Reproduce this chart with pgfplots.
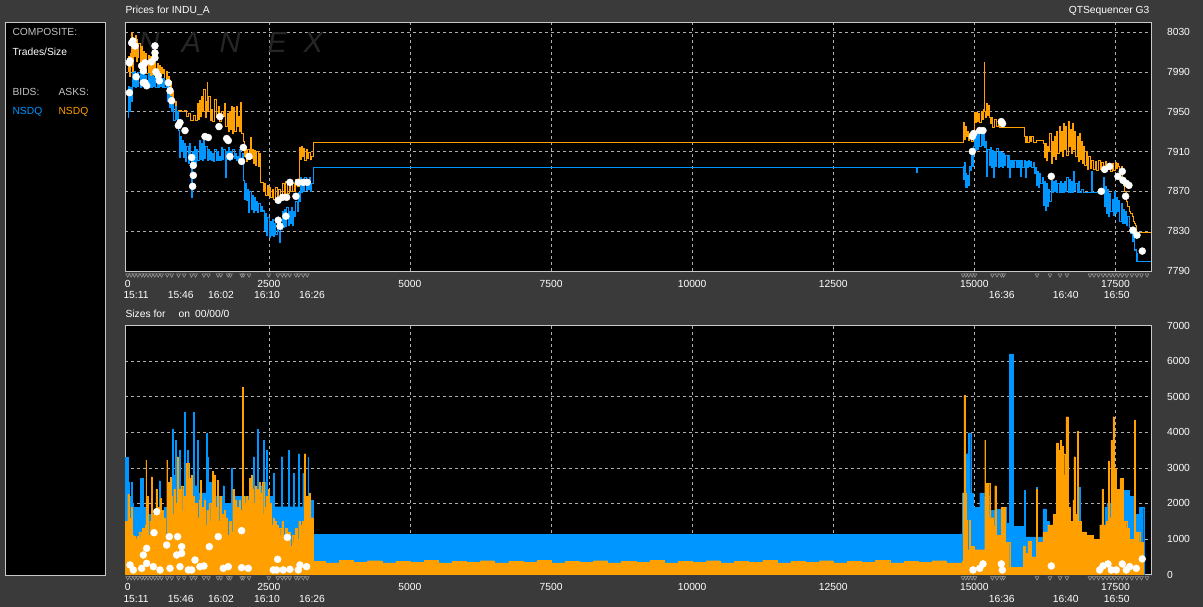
\documentclass[border=0pt]{standalone}
\usepackage{pgfplots}
\pgfplotsset{compat=1.18}
\usepackage{fontspec}
\setmainfont{Liberation Sans}
\definecolor{bgc}{RGB}{58,58,58}
\definecolor{bidc}{RGB}{0,150,255}
\definecolor{askc}{RGB}{255,160,0}
\definecolor{framec}{RGB}{200,200,200}
\definecolor{gridc}{RGB}{175,175,175}
\definecolor{lblc}{RGB}{195,195,195}
\definecolor{wmc}{RGB}{38,38,38}
\definecolor{vmc}{RGB}{150,150,150}
\newcommand{\sm}{\fontsize{10.3}{12}\selectfont}
\tikzset{tl/.style={font=\sm, text=white, yshift=-24pt}}
\pgfplotsset{
  nxbase/.style={
    anchor=south west, scale only axis, width=1026pt, height=249pt,
    xmin=-48, xmax=18130,
    xtick={2500,5000,...,17500},
    extra x ticks={0}, extra x tick style={grid=none},
    axis background/.style={fill=black},
    axis line style={draw=framec, line width=0.8pt},
    grid=major,
    major grid style={draw=gridc, dash pattern=on 3pt off 3pt, line width=0.5pt},
    major tick length=0pt,
    tick style={draw=none},
    yticklabel pos=right,
    ticklabel style={font=\sm, text=white},
    yticklabel style={anchor=west, xshift=12.5pt},
    xticklabel style={yshift=-5.5pt},
    /pgf/number format/assume math mode=true,
    /pgf/number format/1000 sep={},
    scaled ticks=false,
    clip=false,
  },
  vm/.style={only marks, mark=triangle, mark size=2.2pt, mark options={rotate=180, draw=vmc, line width=0.6pt}},
  dots/.style={only marks, mark=*, mark size=3.5pt, mark options={fill=white, draw=white}},
}
\begin{document}
\begin{tikzpicture}[x=1pt,y=1pt]
\fill[bgc] (0,0) rectangle (1203,607);
\draw[framec, fill=black, line width=0.8pt] (5,585) rectangle (105,32);
\node[anchor=west, font=\sm, text=lblc] at (9,575) {COMPOSITE:};
\node[anchor=west, font=\sm, text=white] at (9,555) {Trades/Size};
\node[anchor=west, font=\sm, text=lblc] at (9,515) {BIDS:};
\node[anchor=west, font=\sm, text=lblc] at (55,515) {ASKS:};
\node[anchor=west, font=\sm, text=bidc] at (9,495) {NSDQ};
\node[anchor=west, font=\sm, text=askc] at (55,495) {NSDQ};
\node[anchor=west, font=\sm, text=white] at (122,596) {Prices for INDU\_A};
\node[anchor=east, font=\sm, text=white] at (1153,596) {QTSequencer G3};
\node[anchor=west, font=\sm, text=white] at (122,293) {Sizes for\hspace{13pt}on\hspace{5pt}00/00/0};

% ---------------- prices ----------------
\begin{axis}[nxbase, at={(125pt,336pt)}, ymin=7790, ymax=8040,
  ytick={7790,7830,...,8030}]
\node[font=\fontsize{29}{29}\selectfont\itshape, text=wmc] at (axis cs:380,8019) {N};
\node[font=\fontsize{29}{29}\selectfont\itshape, text=wmc] at (axis cs:1125,8019) {A};
\node[font=\fontsize{29}{29}\selectfont\itshape, text=wmc] at (axis cs:1816,8019) {N};
\node[font=\fontsize{29}{29}\selectfont\itshape, text=wmc] at (axis cs:2649,8019) {E};
\node[font=\fontsize{29}{29}\selectfont\itshape, text=wmc] at (axis cs:3287,8019) {X};
% ask
\addplot[const plot, draw=askc, line width=1pt] coordinates {
(0,7990)(15,8005)(30,7985)(45,8008)(60,7995)(75,8029)(90,7990)(105,8020)(120,8005)(135,8026)(150,8000)(165,8022)(180,8004)(200,8018)(220,7998)(240,8015)(260,7990)(280,8010)(300,7992)(320,8008)(340,7988)(360,8006)(380,7985)(400,8005)(420,7984)(440,8002)(460,7986)(480,8000)(500,7985)(520,7998)(540,7984)(560,7996)(580,7986)(600,7994)(620,7988)(640,7992)(660,7978)(680,7990)(700,7975)(720,7985)(740,7960)(760,7980)(780,7955)(800,7970)(820,7952)(840,7960)(860,7950)(900,7951)(960,7950)(1000,7951)(1040,7945)(1080,7948)(1120,7941)(1160,7946)(1200,7941)(1230,7958)(1250,7942)(1270,7961)(1290,7945)(1310,7965)(1330,7950)(1350,7972)(1370,7944)(1390,7960)(1405,7979)(1420,7950)(1440,7965)(1460,7941)(1480,7952)(1510,7940)(1540,7962)(1570,7944)(1600,7955)(1630,7940)(1660,7950)(1690,7945)(1720,7958)(1740,7935)(1760,7948)(1780,7930)(1800,7950)(1820,7932)(1840,7955)(1860,7928)(1880,7954)(1900,7930)(1920,7955)(1940,7935)(1960,7945)(1980,7930)(2000,7959)(2020,7928)(2050,7920)(2070,7905)(2090,7915)(2110,7900)(2130,7912)(2150,7902)(2170,7924)(2190,7903)(2210,7912)(2230,7898)(2250,7911)(2270,7896)(2290,7910)(2310,7895)(2330,7908)(2350,7879)(2380,7879)(2410,7870)(2430,7878)(2450,7866)(2470,7876)(2490,7866)(2510,7874)(2530,7864)(2560,7872)(2590,7862)(2620,7874)(2650,7865)(2680,7872)(2710,7866)(2740,7878)(2770,7866)(2800,7880)(2830,7868)(2860,7876)(2890,7870)(2920,7878)(2950,7870)(2980,7882)(3010,7875)(3040,7914)(3060,7902)(3080,7915)(3100,7905)(3120,7913)(3140,7901)(3160,7912)(3180,7903)(3200,7909)(3230,7902)(3260,7905)(3287,7919)
(14800,7920)(14810,7939)(14825,7922)(14840,7935)(14855,7925)(14870,7930)(14890,7921)(14920,7928)(14950,7920)(14980,7930)(15005,7949)(15020,7939)(15040,7949)(15060,7940)(15080,7948)(15100,7939)(15120,7950)(15140,7942)(15160,7952)(15175,7999)(15185,7950)(15200,7944)(15215,7958)(15230,7946)(15250,7956)(15270,7944)(15290,7938)(15310,7944)(15330,7934)(15360,7942)(15390,7935)(15420,7940)(15450,7934)(15500,7934)(15600,7934)(15700,7934)(15890,7925)(15910,7919)(15930,7925)(15950,7919)(15970,7925)(15990,7920)(16010,7925)(16040,7919)(16100,7921)(16200,7921)(16220,7918)(16240,7904)(16260,7918)(16280,7901)(16300,7915)(16320,7910)(16340,7928)(16360,7898)(16380,7920)(16400,7905)(16420,7925)(16440,7902)(16460,7930)(16480,7908)(16500,7935)(16520,7910)(16540,7930)(16560,7905)(16580,7938)(16600,7912)(16620,7935)(16640,7906)(16660,7940)(16680,7915)(16700,7932)(16720,7908)(16740,7938)(16760,7912)(16780,7930)(16800,7905)(16820,7925)(16840,7900)(16860,7928)(16880,7902)(16900,7920)(16920,7898)(16940,7915)(16960,7896)(16980,7910)(17000,7892)(17020,7905)(17050,7893)(17080,7901)(17110,7892)(17140,7900)(17170,7891)(17200,7901)(17230,7892)(17260,7899)(17290,7891)(17320,7900)(17350,7893)(17380,7898)(17410,7890)(17440,7898)(17470,7891)(17500,7899)(17520,7893)(17540,7898)(17560,7895)(17580,7890)(17600,7895)(17630,7880)(17660,7870)(17690,7860)(17710,7855)(17740,7850)(17770,7848)(17800,7845)(17820,7840)(17840,7838)(17860,7836)(17880,7829)(18130,7829)
};
% bid
\addplot[const plot, draw=bidc, line width=1pt] coordinates {
(0,7944)(15,7975)(30,7950)(45,7974)(60,7960)(80,7989)(100,7975)(120,7990)(140,7974)(160,7988)(180,7975)(200,7989)(220,7974)(240,7990)(260,7975)(280,7988)(300,7974)(320,7986)(340,7976)(360,7988)(380,7974)(400,7985)(420,7974)(440,7986)(460,7975)(480,7984)(500,7974)(520,7985)(540,7974)(560,7984)(580,7975)(600,7983)(620,7974)(640,7983)(660,7974)(680,7980)(700,7960)(720,7975)(740,7954)(760,7965)(780,7950)(800,7958)(820,7941)(840,7955)(860,7942)(880,7950)(900,7931)(915,7904)(930,7925)(950,7910)(970,7921)(990,7904)(1010,7918)(1030,7900)(1050,7915)(1070,7898)(1090,7918)(1110,7902)(1130,7864)(1145,7910)(1165,7900)(1185,7915)(1205,7898)(1225,7912)(1245,7901)(1265,7921)(1285,7902)(1305,7918)(1325,7901)(1345,7921)(1365,7903)(1385,7915)(1405,7901)(1425,7912)(1445,7902)(1465,7910)(1485,7901)(1505,7908)(1525,7900)(1545,7912)(1565,7901)(1585,7910)(1605,7901)(1625,7905)(1645,7901)(1665,7914)(1685,7902)(1705,7912)(1725,7884)(1745,7910)(1765,7902)(1785,7914)(1805,7901)(1825,7910)(1845,7902)(1865,7912)(1885,7903)(1905,7908)(1925,7901)(1945,7905)(1965,7901)(1985,7912)(2005,7902)(2025,7908)(2045,7881)(2065,7862)(2085,7878)(2105,7861)(2125,7872)(2145,7849)(2165,7870)(2185,7852)(2205,7866)(2225,7849)(2245,7864)(2265,7851)(2285,7860)(2305,7849)(2325,7858)(2345,7850)(2365,7855)(2385,7850)(2405,7851)(2425,7831)(2445,7848)(2465,7826)(2485,7844)(2505,7824)(2525,7840)(2545,7826)(2565,7842)(2585,7825)(2605,7838)(2625,7827)(2645,7836)(2665,7830)(2685,7819)(2700,7838)(2720,7832)(2740,7850)(2760,7834)(2780,7852)(2800,7835)(2820,7854)(2840,7836)(2860,7850)(2880,7838)(2900,7854)(2920,7836)(2940,7850)(2960,7845)(2980,7860)(3000,7850)(3020,7869)(3040,7860)(3060,7884)(3080,7869)(3100,7882)(3120,7870)(3140,7884)(3160,7871)(3180,7880)(3200,7872)(3220,7884)(3240,7870)(3260,7878)(3287,7894)(13960,7894)(13970,7889)(13985,7894)
(14800,7895)(14810,7882)(14822,7899)(14835,7874)(14850,7888)(14865,7874)(14880,7886)(14900,7876)(14920,7895)(14935,7891)(14950,7911)(14970,7895)(14990,7915)(15005,7929)(15020,7911)(15040,7928)(15060,7912)(15080,7929)(15100,7915)(15120,7931)(15140,7916)(15160,7929)(15180,7914)(15200,7920)(15220,7885)(15240,7912)(15260,7896)(15280,7914)(15300,7894)(15320,7911)(15340,7884)(15360,7910)(15380,7895)(15400,7913)(15420,7894)(15440,7910)(15460,7895)(15480,7909)(15500,7894)(15520,7908)(15540,7896)(15560,7906)(15580,7894)(15600,7906)(15620,7884)(15640,7901)(15660,7894)(15680,7901)(15700,7894)(15720,7901)(15740,7894)(15760,7901)(15780,7894)(15800,7901)(15820,7885)(15840,7901)(15860,7894)(15880,7901)(15900,7884)(15920,7900)(15940,7894)(15960,7901)(15980,7895)(16000,7900)(16020,7894)(16040,7899)(16060,7888)(16080,7894)(16100,7876)(16120,7890)(16140,7874)(16160,7888)(16180,7878)(16200,7884)(16220,7856)(16240,7880)(16260,7851)(16280,7878)(16300,7855)(16320,7872)(16340,7860)(16360,7881)(16380,7869)(16400,7880)(16420,7870)(16440,7881)(16460,7869)(16480,7878)(16500,7869)(16520,7880)(16540,7869)(16560,7878)(16580,7869)(16600,7880)(16620,7870)(16640,7884)(16660,7869)(16680,7882)(16700,7869)(16720,7880)(16740,7869)(16760,7890)(16780,7871)(16800,7878)(16820,7869)(16840,7880)(16860,7869)(16900,7872)(16940,7869)(17040,7869)(17080,7890)(17100,7869)(17260,7869)(17280,7884)(17300,7855)(17320,7875)(17340,7848)(17360,7872)(17380,7845)(17400,7868)(17420,7850)(17440,7862)(17460,7846)(17480,7870)(17500,7848)(17520,7864)(17540,7850)(17560,7861)(17580,7840)(17600,7858)(17620,7838)(17640,7852)(17660,7838)(17680,7850)(17700,7836)(17720,7845)(17740,7834)(17760,7828)(17780,7834)(17800,7820)(17820,7830)(17840,7811)(17860,7812)(17870,7800)(17880,7808)(17890,7800)(18130,7800)
};
% trades
\addplot[dots] coordinates {
(70,8019)(129,8016)(41,8001)(30,7969)(30,7999)(247,7996)(277,7991)(306,7999)(483,8016)(483,8009)(483,8004)(277,7979)(336,7976)(542,7986)(719,7979)(749,7971)(778,7961)(926,7939)(897,7936)(1015,7931)(1369,7925)(1428,7924)(1634,7945)(1617,7935)(1753,7923)(1782,7921)(1133,7904)(1162,7896)(1162,7886)(1150,7875)(1812,7905)(2018,7900)(2048,7914)(2148,7905)(2667,7861)(2744,7864)(2815,7864)(2874,7879)(2980,7865)(3022,7879)(3110,7879)(3181,7879)(2803,7845)(2667,7841)(2697,7835)(94,8021)(271,7996)(306,7979)(150,7985)(420,8000)(500,7990)(560,7981)
(14964,7925)(14988,7928)(14964,7910)(15094,7931)(15153,7931)(15478,7940)(15500,7938)(16363,7885)(17249,7870)(17308,7892)(17397,7895)(17544,7885)(17621,7890)(17633,7881)(17692,7878)(17739,7876)(17680,7865)(17810,7831)(17881,7826)(17975,7810)
};
\addplot[vm] coordinates {
(0,7786)(60,7786)(120,7786)(180,7786)(250,7786)(300,7786)(360,7786)(420,7786)(480,7786)(540,7786)(600,7786)(700,7786)(780,7786)(900,7786)(1000,7786)(1130,7786)(1200,7786)(1350,7786)(1430,7786)(1600,7786)(1650,7786)(1780,7786)(1820,7786)(2020,7786)(2050,7786)(2150,7786)(2500,7786)(2660,7786)(2740,7786)(2800,7786)(2870,7786)(2980,7786)(3030,7786)(3110,7786)(3180,7786)
(14800,7786)(14850,7786)(14900,7786)(14960,7786)(15010,7786)(15320,7786)(15400,7786)(15480,7786)(15520,7786)(16110,7786)(16340,7786)(16520,7786)(16640,7786)(17050,7786)(17120,7786)(17200,7786)(17280,7786)(17350,7786)(17420,7786)(17480,7786)(17550,7786)(17620,7786)(17700,7786)(17790,7786)(17880,7786)(17960,7786)(18060,7786)
};
\node[tl] at (axis cs:147,7790) {15:11};
\node[tl] at (axis cs:940,7790) {15:46};
\node[tl] at (axis cs:1653,7790) {16:02};
\node[tl] at (axis cs:2467,7790) {16:10};
\node[tl] at (axis cs:3264,7790) {16:26};
\node[tl] at (axis cs:15485,7790) {16:36};
\node[tl] at (axis cs:16619,7790) {16:40};
\node[tl] at (axis cs:17522,7790) {16:50};
\end{axis}

% ---------------- sizes ----------------
\begin{axis}[nxbase, at={(125pt,32.4pt)}, ymin=0, ymax=7000,
  ytick={0,1000,...,7000}]
\addplot[const plot, fill=bidc, draw=bidc, line width=0.3pt] coordinates {
(-40,3300)(10,2600)(30,2200)(60,2600)(80,2000)(100,1900)(200,1900)(220,2700)(270,1900)(300,1900)(330,1700)(400,1500)(520,1800)(560,2640)(575,1600)(640,1900)(700,2000)(790,4100)(805,2800)(840,3780)(855,2500)(920,3500)(935,2400)(1000,4577)(1015,2600)(1060,3500)(1075,2500)(1160,4577)(1175,2500)(1230,3780)(1245,2300)(1390,3970)(1405,3313)(1420,2600)(1500,2845)(1515,2200)(1690,2500)(1705,2000)(1840,3000)(1855,2200)(2220,3313)(2235,2400)(2300,4080)(2315,2500)(2400,3780)(2415,2600)(2460,3500)(2475,2200)(2580,2845)(2595,1909)(2720,3313)(2735,1909)(2840,3500)(2855,1909)(2930,2845)(2945,1909)(3020,3400)(3035,1909)(3100,2845)(3115,1800)(3190,3300)(3205,1800)(3250,2100)(3280,1130)
(14790,2300)(14850,3400)(14890,3970)(14935,2300)(14980,1900)(15095,2300)(15183,2200)(15272,1800)(15390,1850)(15478,1900)(15567,1450)(15620,6200)(15650,1450)(15665,6200)(15690,1350)(15862,1060)(15890,2380)(15905,1060)(16098,2450)(16115,1060)(16216,1850)(16270,1500)(16334,1300)(16452,1200)(16570,1100)(16865,2450)(16880,1100)(16983,970)(17101,1000)(17220,950)(17310,1900)(17350,2000)(17420,1000)(17430,2350)(17445,1100)(17633,2360)(17751,2200)(17839,1700)(17928,1900)(18000,0)
} \closedcycle;
\addplot[const plot, fill=askc, draw=askc, line width=0.3pt] coordinates {
(-40,1500)(0,2250)(20,1600)(40,1200)(60,1900)(80,1100)(100,1070)(130,1000)(160,1070)(200,1200)(230,1050)(260,1300)(290,1100)(310,1400)(320,3220)(335,1500)(350,2200)(370,1100)(390,1500)(410,1000)(420,2750)(435,1300)(450,1700)(470,1100)(490,1800)(500,2400)(515,1500)(540,1900)(560,1200)(570,2150)(585,1400)(610,1800)(630,1200)(650,1600)(670,1000)(690,3220)(705,2000)(720,2600)(740,1800)(760,2750)(775,2200)(795,1700)(815,2400)(840,1600)(860,2000)(875,3313)(890,2100)(910,2400)(930,2000)(950,2500)(975,1800)(1000,2200)(1030,3125)(1080,2700)(1100,2000)(1120,2800)(1140,1600)(1160,2200)(1180,1400)(1200,2000)(1230,1600)(1260,2100)(1280,2650)(1295,1500)(1320,1900)(1340,1600)(1360,2100)(1380,1400)(1400,1800)(1420,1200)(1440,2000)(1470,1500)(1500,2900)(1515,1600)(1530,2800)(1550,1900)(1570,1300)(1590,2650)(1610,1500)(1630,2200)(1650,1300)(1670,1700)(1690,1200)(1710,1800)(1730,1400)(1750,1600)(1770,1100)(1800,1500)(1830,1200)(1860,2400)(1880,1800)(1900,2100)(1920,1600)(1940,1900)(1960,1700)(1980,2100)(2000,1800)(2030,5280)(2045,2200)(2070,2000)(2090,2200)(2110,1900)(2130,2100)(2150,2700)(2170,2300)(2190,2800)(2210,2400)(2230,2000)(2250,2500)(2270,2100)(2290,2400)(2310,1800)(2330,2600)(2350,2000)(2370,2300)(2390,2600)(2410,1700)(2430,1900)(2450,2200)(2470,1500)(2490,2400)(2510,1600)(2530,2000)(2550,1400)(2570,1600)(2590,1000)(2610,1500)(2630,1200)(2650,1400)(2670,1000)(2690,1300)(2710,1100)(2730,1500)(2760,1000)(2790,1300)(2820,900)(2850,1200)(2880,800)(2910,1100)(2940,900)(2970,1300)(3000,1000)(3030,1500)(3060,1400)(3090,1500)(3110,1200)(3130,3400)(3150,1500)(3170,2200)(3190,1400)(3210,2300)(3230,1500)(3250,1600)(3280,380)
(3500,330)(3750,400)(4000,340)(4250,390)(4500,330)(4750,380)(5000,340)(5250,400)(5500,330)(5750,380)(6000,340)(6250,390)(6500,330)(6750,380)(7000,340)(7250,400)(7500,330)(7750,380)(8000,340)(8250,390)(8500,330)(8750,380)(9000,340)(9250,400)(9500,330)(9750,380)(10000,340)(10250,390)(10500,330)(10750,380)(11000,340)(11250,400)(11500,330)(11750,380)(12000,340)(12250,390)(12500,330)(12750,380)(13000,340)(13250,400)(13500,330)(13750,380)(14000,340)(14250,390)(14500,330)
(14790,380)(14799,2300)(14815,5040)(14830,2300)(14858,1540)(14880,700)(14910,1540)(14925,800)(15000,700)(15183,3780)(15200,2570)(15272,1600)(15340,1350)(15360,2500)(15380,1100)(15478,1900)(15540,900)(15600,900)(15626,200)(15862,800)(15900,600)(15950,950)(16000,500)(16098,2400)(16115,900)(16216,1200)(16300,1400)(16400,1700)(16452,3700)(16482,3200)(16500,3500)(16520,3780)(16540,3600)(16570,3400)(16600,2800)(16620,4440)(16635,2000)(16650,4440)(16665,1900)(16700,1500)(16747,2100)(16765,3313)(16780,1700)(16820,4030)(16835,1500)(16900,1200)(16983,1100)(17101,1000)(17220,1400)(17260,2400)(17275,1400)(17338,1500)(17370,3200)(17385,1600)(17420,3780)(17435,2200)(17456,4440)(17475,3000)(17520,2400)(17580,2700)(17633,1500)(17700,1300)(17751,1000)(17839,4350)(17855,1200)(17930,900)(17987,0)
} \closedcycle;
\addplot[dots] coordinates {
(513,1768)(466,1178)(737,1066)(885,1066)(336,738)(277,551)(690,831)(956,785)(956,597)(1446,785)(1605,1066)(2018,1234)(2827,1047)(2656,430)(41,270)(247,176)(454,223)(749,176)(926,223)(1133,130)(1192,410)(1351,242)(1694,176)(1782,223)(2018,195)(2136,176)(2638,130)(2756,130)(2874,148)(3022,130)(3169,223)(100,130)(572,130)(1074,130)(336,317)(867,551)(1280,223)(2579,130)(3051,270)
(14976,130)(15095,176)(15153,300)(15478,300)(15496,130)(16364,242)(17279,242)(17367,300)(17426,130)(17621,300)(17692,130)(17751,223)(17869,176)(17975,440)(17220,130)(17515,130)
};
\addplot[vm] coordinates {
(0,-90)(60,-90)(120,-90)(180,-90)(250,-90)(300,-90)(360,-90)(420,-90)(480,-90)(540,-90)(600,-90)(700,-90)(780,-90)(900,-90)(1000,-90)(1130,-90)(1200,-90)(1350,-90)(1430,-90)(1600,-90)(1650,-90)(1780,-90)(1820,-90)(2020,-90)(2050,-90)(2150,-90)(2500,-90)(2660,-90)(2740,-90)(2800,-90)(2870,-90)(2980,-90)(3030,-90)(3110,-90)(3180,-90)
(14800,-90)(14850,-90)(14900,-90)(14960,-90)(15010,-90)(15320,-90)(15400,-90)(15480,-90)(15520,-90)(16110,-90)(16340,-90)(16520,-90)(16640,-90)(17050,-90)(17120,-90)(17200,-90)(17280,-90)(17350,-90)(17420,-90)(17480,-90)(17550,-90)(17620,-90)(17700,-90)(17790,-90)(17880,-90)(17960,-90)(18060,-90)
};
\node[tl] at (axis cs:147,0) {15:11};
\node[tl] at (axis cs:940,0) {15:46};
\node[tl] at (axis cs:1653,0) {16:02};
\node[tl] at (axis cs:2467,0) {16:10};
\node[tl] at (axis cs:3264,0) {16:26};
\node[tl] at (axis cs:15485,0) {16:36};
\node[tl] at (axis cs:16619,0) {16:40};
\node[tl] at (axis cs:17522,0) {16:50};
\end{axis}
\end{tikzpicture}
\end{document}
